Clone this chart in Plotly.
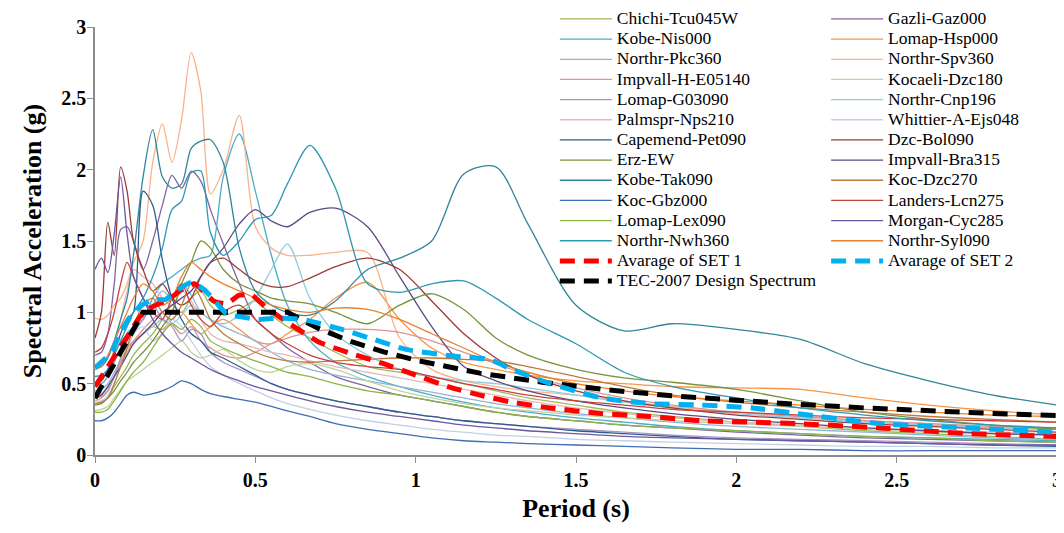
import plotly.graph_objects as go

# Period grid (s) shared by the 24 record spectra
periods = [0, .02, .04, .06, .08, .10, .12, .15, .18, .21,
           .24, .27, .30, .33, .36, .40, .45, .50, .55, .60,
           .67, .75, .85, .95, 1.05, 1.15, 1.25, 1.35, 1.5, 1.65,
           1.8, 2.0, 2.2, 2.4, 2.6, 2.8, 3.0]

chichi_tcu045w = [0.36,0.37,0.40,0.48,0.55,0.62,0.70,0.78,0.85,0.95, 1.05,1.00,1.10,1.15,1.05,0.98,1.02,1.08,0.98,0.90, 0.82,0.72,0.62,0.58,0.55,0.50,0.45,0.40,0.35,0.30, 0.27,0.23,0.20,0.17,0.15,0.13,0.11]
gazli_gaz000 = [0.70,0.72,0.85,1.20,1.58,1.60,1.50,1.30,1.50,1.75, 1.96,1.87,1.99,1.92,1.72,1.48,1.20,0.95,0.85,0.75, 0.65,0.55,0.48,0.42,0.38,0.34,0.30,0.27,0.24,0.21, 0.19,0.16,0.14,0.12,0.11,0.10,0.09]
kobe_nis000 = [0.50,0.50,0.55,0.65,0.75,0.85,0.90,0.95,1.10,1.20, 1.25,1.30,1.35,1.38,1.40,1.95,2.25,1.85,1.40,1.05, 0.80,0.65,0.55,0.48,0.42,0.37,0.33,0.30,0.26,0.23, 0.20,0.17,0.15,0.13,0.12,0.11,0.10]
lomap_hsp000 = [0.38,0.40,0.45,0.55,0.65,0.72,0.80,0.85,0.90,0.88, 0.95,1.00,0.92,0.85,0.90,0.95,0.88,0.80,0.78,0.85, 0.95,1.10,1.21,0.95,0.75,0.65,0.60,0.56,0.52,0.50, 0.48,0.47,0.46,0.40,0.35,0.31,0.28]
northr_pkc360 = [0.45,0.46,0.50,0.58,0.66,0.75,0.85,0.95,1.05,1.15, 1.10,1.20,1.12,1.00,0.95,0.90,0.85,0.80,0.72,0.66, 0.60,0.56,0.52,0.48,0.44,0.40,0.36,0.33,0.29,0.26, 0.23,0.20,0.18,0.16,0.14,0.12,0.11]
northr_spv360 = [0.96,0.95,0.98,1.05,1.10,1.20,1.35,1.50,2.05,2.32, 2.05,2.35,2.82,2.55,1.83,2.00,2.38,1.60,1.45,1.40, 1.40,1.42,1.42,0.82,0.60,0.52,0.48,0.45,0.42,0.38, 0.34,0.30,0.27,0.24,0.22,0.20,0.18]
impvall_he05140 = [0.42,0.43,0.48,0.55,0.65,0.75,0.80,0.88,0.95,1.00, 0.92,0.85,0.90,0.80,0.75,0.70,0.68,0.72,0.78,0.82, 0.86,0.88,0.88,0.86,0.80,0.72,0.64,0.56,0.47,0.40, 0.35,0.30,0.27,0.24,0.22,0.20,0.19]
kocaeli_dzc180 = [0.31,0.32,0.34,0.40,0.46,0.52,0.55,0.60,0.65,0.70, 0.75,0.80,0.72,0.68,0.70,0.74,0.66,0.60,0.58,0.62, 0.64,0.60,0.52,0.45,0.40,0.36,0.33,0.31,0.28,0.26, 0.24,0.22,0.20,0.18,0.16,0.15,0.14]
lomap_g03090 = [0.40,0.41,0.45,0.55,0.68,0.80,0.90,0.95,1.05,0.95, 0.90,0.80,0.88,0.85,0.72,0.65,0.60,0.55,0.50,0.46, 0.42,0.38,0.34,0.30,0.27,0.24,0.22,0.20,0.18,0.16, 0.14,0.12,0.11,0.10,0.09,0.08,0.07]
northr_cnp196 = [0.42,0.43,0.47,0.55,0.62,0.70,0.78,0.85,0.90,0.95, 0.92,0.98,1.05,1.00,0.95,0.92,0.98,1.10,1.30,1.48, 1.10,0.85,0.70,0.60,0.55,0.52,0.50,0.47,0.42,0.37, 0.33,0.29,0.26,0.23,0.21,0.19,0.18]
palmspr_nps210 = [0.50,0.52,0.60,0.75,0.95,1.15,1.30,1.25,1.20,1.10, 1.05,1.15,1.08,0.95,0.85,0.80,0.78,0.75,0.72,0.70, 0.66,0.62,0.58,0.54,0.50,0.46,0.42,0.38,0.33,0.29, 0.26,0.23,0.21,0.19,0.17,0.16,0.15]
whittier_a_ejs048 = [0.38,0.38,0.42,0.50,0.62,0.75,0.85,0.90,0.80,0.85, 0.95,0.90,0.80,0.70,0.62,0.56,0.50,0.45,0.40,0.36, 0.32,0.28,0.24,0.21,0.18,0.16,0.14,0.13,0.11,0.10, 0.09,0.08,0.07,0.06,0.06,0.05,0.05]
capemend_pet090 = [0.50,0.52,0.60,0.72,0.85,0.95,1.00,1.85,1.75,1.37, 1.10,0.95,0.85,0.80,0.72,0.68,0.62,0.56,0.50,0.46, 0.42,0.38,0.34,0.30,0.27,0.24,0.22,0.20,0.17,0.15, 0.13,0.11,0.10,0.09,0.08,0.07,0.06]
dzc_bol090 = [0.82,1.00,1.63,1.40,2.02,1.85,1.50,1.30,1.15,1.20, 1.10,1.05,1.10,1.25,1.35,1.38,1.30,1.22,1.18,1.18, 1.24,1.32,1.38,1.30,1.08,0.85,0.68,0.56,0.45,0.38, 0.33,0.28,0.25,0.22,0.20,0.18,0.16]
erz_ew = [0.35,0.36,0.40,0.45,0.52,0.58,0.65,0.72,0.80,0.90, 1.00,1.20,1.35,1.50,1.45,1.30,1.20,1.15,1.10,1.08, 1.06,1.00,0.92,1.05,1.13,1.02,0.82,0.70,0.60,0.54, 0.51,0.46,0.38,0.30,0.25,0.21,0.18]
impvall_bra315 = [0.40,0.42,0.48,0.55,0.62,0.70,0.78,0.85,0.92,1.00, 1.05,1.10,1.15,1.25,1.35,1.45,1.62,1.72,1.64,1.60, 1.70,1.73,1.60,1.25,0.90,0.62,0.52,0.45,0.38,0.33, 0.29,0.25,0.22,0.19,0.17,0.15,0.14]
kobe_tak090 = [0.62,0.62,0.68,0.80,0.95,1.10,1.40,1.95,2.28,1.95, 1.87,1.90,2.15,2.20,2.21,2.05,1.45,1.15,1.05,1.00, 0.98,1.08,1.30,1.38,1.50,1.97,2.02,1.62,1.05,0.87, 0.92,0.88,0.81,0.64,0.52,0.42,0.35]
koc_dzc270 = [0.36,0.37,0.40,0.50,0.62,0.75,0.90,1.05,1.10,1.00, 0.95,1.05,1.20,1.10,0.95,0.85,0.78,0.72,0.68,0.66, 0.65,0.66,0.67,0.68,0.68,0.67,0.66,0.62,0.55,0.48, 0.42,0.37,0.33,0.30,0.27,0.25,0.23]
koc_gbz000 = [0.24,0.24,0.26,0.30,0.36,0.42,0.44,0.42,0.43,0.45, 0.48,0.52,0.50,0.46,0.43,0.41,0.39,0.37,0.34,0.31, 0.27,0.22,0.18,0.15,0.12,0.10,0.09,0.08,0.07,0.06, 0.05,0.04,0.04,0.03,0.03,0.03,0.03]
landers_lcn275 = [0.72,0.75,0.85,1.00,1.20,1.35,1.25,1.10,1.00,0.95, 1.10,1.20,1.05,0.95,0.90,1.00,1.05,0.95,0.85,0.78, 0.70,0.65,0.62,0.60,0.55,0.50,0.46,0.42,0.38,0.35, 0.32,0.30,0.28,0.26,0.25,0.24,0.23]
lomap_lex090 = [0.30,0.30,0.32,0.38,0.45,0.52,0.58,0.65,0.75,0.85, 0.92,0.88,0.95,0.90,0.80,0.75,0.70,0.66,0.62,0.58, 0.55,0.50,0.45,0.42,0.38,0.34,0.30,0.27,0.24,0.21, 0.19,0.17,0.15,0.13,0.12,0.10,0.09]
morgan_cyc285 = [1.30,1.38,1.28,1.55,1.95,1.55,1.25,1.10,0.95,0.85, 0.78,0.72,0.68,0.64,0.60,0.56,0.52,0.48,0.45,0.42, 0.38,0.34,0.30,0.27,0.24,0.21,0.19,0.17,0.15,0.13, 0.12,0.11,0.10,0.09,0.08,0.07,0.07]
northr_nwh360 = [0.55,0.56,0.60,0.70,0.80,0.90,1.00,1.10,1.25,1.45, 1.72,1.78,1.98,1.99,1.56,1.40,1.50,1.65,1.68,1.90, 2.17,1.87,1.20,1.14,1.20,1.22,1.10,0.95,0.78,0.58, 0.48,0.40,0.33,0.28,0.24,0.21,0.19]
northr_syl090 = [0.60,0.62,0.70,0.80,0.90,1.00,1.10,1.20,1.15,1.05, 1.10,1.25,1.35,1.30,1.25,1.20,1.15,1.10,1.05,1.02, 1.00,1.03,1.02,0.95,0.85,0.75,0.65,0.58,0.50,0.45, 0.41,0.38,0.35,0.32,0.30,0.28,0.27]

# Average of SET 1
set1_periods = [0, 0.035, 0.08, 0.11, 0.14, 0.18, 0.23, 0.27, 0.31, 0.37, 0.41, 0.45, 0.49, 0.53, 0.6, 0.7, 0.8, 0.9, 1.0, 1.1, 1.2, 1.3, 1.42, 1.58, 1.73, 1.89, 2.05, 2.19, 2.45, 2.72, 3.0]
set1_avg = [0.48, 0.60, 0.76, 0.86, 0.97, 1.04, 1.09, 1.16, 1.20, 1.08, 1.06, 1.12, 1.12, 1.04, 0.93, 0.79, 0.71, 0.64, 0.56, 0.48, 0.42, 0.37, 0.33, 0.29, 0.27, 0.24, 0.23, 0.22, 0.19, 0.15, 0.13]
# Average of SET 2
set2_periods = [0, 0.05, 0.08, 0.11, 0.14, 0.18, 0.22, 0.26, 0.30, 0.34, 0.37, 0.41, 0.45, 0.51, 0.57, 0.65, 0.77, 0.87, 0.97, 1.13, 1.23, 1.30, 1.42, 1.58, 1.73, 1.89, 2.05, 2.19, 2.45, 2.72, 3.0]
set2_avg = [0.61, 0.72, 0.86, 0.97, 1.04, 1.09, 1.09, 1.16, 1.21, 1.16, 1.09, 0.99, 0.97, 0.95, 0.96, 0.95, 0.88, 0.81, 0.74, 0.69, 0.67, 0.60, 0.50, 0.40, 0.36, 0.35, 0.33, 0.29, 0.22, 0.19, 0.16]
# TEC-2007 design spectrum
tec_periods = [0, 0.15, 0.6, 0.7, 0.8, 0.9, 1.0, 1.2, 1.4, 1.6, 1.8, 2.0, 2.2, 2.4, 2.6, 2.8, 3.0]
tec_sa = [0.40, 1.00, 1.00, 0.884, 0.794, 0.723, 0.665, 0.574, 0.508, 0.456, 0.415, 0.382, 0.354, 0.330, 0.309, 0.291, 0.276]

# (name, values, colour, legend column)
records = [
    ("Chichi-Tcu045W", chichi_tcu045w, "#9BBB59", 1),
    ("Gazli-Gaz000", gazli_gaz000, "#8064A2", 2),
    ("Kobe-Nis000", kobe_nis000, "#4BACC6", 1),
    ("Lomap-Hsp000", lomap_hsp000, "#F79646", 2),
    ("Northr-Pkc360", northr_pkc360, "#95B3D7", 1),
    ("Northr-Spv360", northr_spv360, "#FAB38A", 2),
    ("Impvall-H-E05140", impvall_he05140, "#D99694", 1),
    ("Kocaeli-Dzc180", kocaeli_dzc180, "#BDD49A", 2),
    ("Lomap-G03090", lomap_g03090, "#A996C4", 1),
    ("Northr-Cnp196", northr_cnp196, "#8FCBDD", 2),
    ("Palmspr-Nps210", palmspr_nps210, "#E6B9B8", 1),
    ("Whittier-A-Ejs048", whittier_a_ejs048, "#C4CFE6", 2),
    ("Capemend-Pet090", capemend_pet090, "#2F5B8E", 1),
    ("Dzc-Bol090", dzc_bol090, "#9B3B38", 2),
    ("Erz-EW", erz_ew, "#77933C", 1),
    ("Impvall-Bra315", impvall_bra315, "#5E4A80", 2),
    ("Kobe-Tak090", kobe_tak090, "#31859C", 1),
    ("Koc-Dzc270", koc_dzc270, "#BA7A40", 2),
    ("Koc-Gbz000", koc_gbz000, "#3E6DB5", 1),
    ("Landers-Lcn275", landers_lcn275, "#C8403C", 2),
    ("Lomap-Lex090", lomap_lex090, "#8DB444", 1),
    ("Morgan-Cyc285", morgan_cyc285, "#6D57A0", 2),
    ("Northr-Nwh360", northr_nwh360, "#2E97B3", 1),
    ("Northr-Syl090", northr_syl090, "#E8822F", 2),
]

SERIF = "Liberation Serif, Times New Roman, serif"


def legend_label(text):
    return "<span style='font-size:17.5px'>" + text + "</span>"


fig = go.Figure()
for name, vals, col, leg in records:
    fig.add_trace(go.Scatter(
        x=periods, y=vals, mode="lines", name=legend_label(name),
        line=dict(color=col, width=1.3, shape="spline", smoothing=0.8),
        legend="legend" if leg == 1 else "legend2",
    ))

avg_dash = "15px,9px"
fig.add_trace(go.Scatter(x=set1_periods, y=set1_avg, mode="lines", name=legend_label("Avarage of SET 1"),
                         line=dict(color="#FF0000", width=5, dash=avg_dash, shape="spline", smoothing=0.5),
                         legend="legend"))
fig.add_trace(go.Scatter(x=tec_periods, y=tec_sa, mode="lines", name=legend_label("TEC-2007 Design Spectrum"),
                         line=dict(color="#000000", width=5, dash=avg_dash),
                         legend="legend"))
fig.add_trace(go.Scatter(x=set2_periods, y=set2_avg, mode="lines", name=legend_label("Avarage of SET 2"),
                         line=dict(color="#00B0F0", width=5, dash=avg_dash, shape="spline", smoothing=0.5),
                         legend="legend2"))

legend_font = dict(family=SERIF, size=13.2, color="#000000")
axis_font = dict(family=SERIF, size=20, color="#000000")
title_font = dict(family=SERIF, size=26, color="#000000")

fig.update_layout(
    width=1056, height=525,
    margin=dict(l=87, r=7, t=19, b=78, autoexpand=False),
    paper_bgcolor="white", plot_bgcolor="white",
    showlegend=True,
    legend=dict(x=0.478, y=1.054, xanchor="left", yanchor="top", bgcolor="rgba(0,0,0,0)",
                font=legend_font, tracegroupgap=0, traceorder="normal", itemwidth=52, maxheight=420),
    legend2=dict(x=0.760, y=1.054, xanchor="left", yanchor="top", bgcolor="rgba(0,0,0,0)",
                 font=legend_font, tracegroupgap=0, traceorder="normal", itemwidth=52, maxheight=420),
)
fig.update_xaxes(
    range=[0, 3], dtick=0.5, tick0=0, showgrid=False, zeroline=False,
    showline=True, linecolor="#8C8C8C", linewidth=1.5,
    ticks="outside", ticklen=6, tickcolor="#8C8C8C",
    tickfont=axis_font, tickprefix="<b>", ticksuffix="</b>",
    title=dict(text="<b>Period (s)</b>", font=title_font, standoff=9),
)
fig.update_yaxes(
    range=[0, 3], dtick=0.5, tick0=0, showgrid=False, zeroline=False,
    showline=True, linecolor="#8C8C8C", linewidth=1.5,
    ticks="outside", ticklen=6, tickcolor="#8C8C8C",
    tickfont=axis_font, tickprefix="<b>", ticksuffix="</b>", ticklabelstandoff=-3,
    title=dict(text="<b>Spectral Acceleration (g)</b>", font=title_font, standoff=12),
)

fig.write_html("out.html")
